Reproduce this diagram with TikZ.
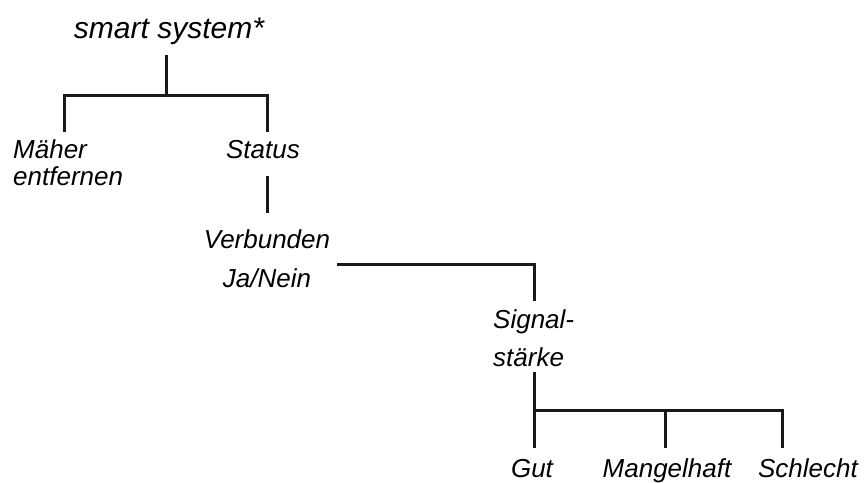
\documentclass[tikz,border=0pt]{standalone}
\usepackage{fontspec}
\setmainfont{Liberation Sans}
\begin{document}
\begin{tikzpicture}[x=1pt,y=-1pt,
  lbl/.style={inner sep=0pt, font=\itshape\fontsize{26}{38}\selectfont},
  rootlbl/.style={inner sep=0pt, font=\itshape\fontsize{30}{36}\selectfont},
  con/.style={line width=3pt, line join=miter, line cap=butt, black!90}]
\useasboundingbox (0,0) rectangle (864,482);
% labels
\node[rootlbl, anchor=base] (root) at (169,38) {smart system*};
\node[lbl, anchor=base west, align=left, font=\itshape\fontsize{26}{27.5}\selectfont] (maeher) at (13,185.5) {Mäher\\entfernen};
\node[lbl, anchor=base] (status) at (263,158) {Status};
\node[lbl, anchor=base, align=center, font=\itshape\fontsize{26}{39}\selectfont] (verb) at (267,287) {Verbunden\\Ja/Nein};
\node[lbl, anchor=base west, align=left] (signal) at (493,366) {Signal-\\stärke};
\node[lbl, anchor=base] (gut) at (532,477) {Gut};
\node[lbl, anchor=base] (mangel) at (667,477) {Mangelhaft};
\node[lbl, anchor=base] (schlecht) at (808,477) {Schlecht};
% connector points
\coordinate (r1) at (166,55); \coordinate (r2) at (166,95);
\coordinate (m1) at (64,95); \coordinate (m2) at (64,132);
\coordinate (s1) at (267,95); \coordinate (s2) at (267,132);
\coordinate (v1) at (267,176); \coordinate (v2) at (267,213);
\coordinate (h1) at (337,264); \coordinate (h2) at (534,264); \coordinate (h3) at (534,301);
\coordinate (g1) at (534,372); \coordinate (g2) at (534,410); \coordinate (g3) at (534,448);
\coordinate (ma1) at (665,410); \coordinate (ma2) at (665,448);
\coordinate (sc1) at (782,410); \coordinate (sc2) at (782,448);
% connectors
\draw[con] (r1) -- (r2);
\draw[con] (m2) -- (m1) -- (s1) -- (s2);
\draw[con] (v1) -- (v2);
\draw[con] (h1) -- (h2) -- (h3);
\draw[con] (g1) -- (g3);
\draw[con] (g2) -- (sc1) -- (sc2);
\draw[con] (ma1) -- (ma2);
\end{tikzpicture}
\end{document}
